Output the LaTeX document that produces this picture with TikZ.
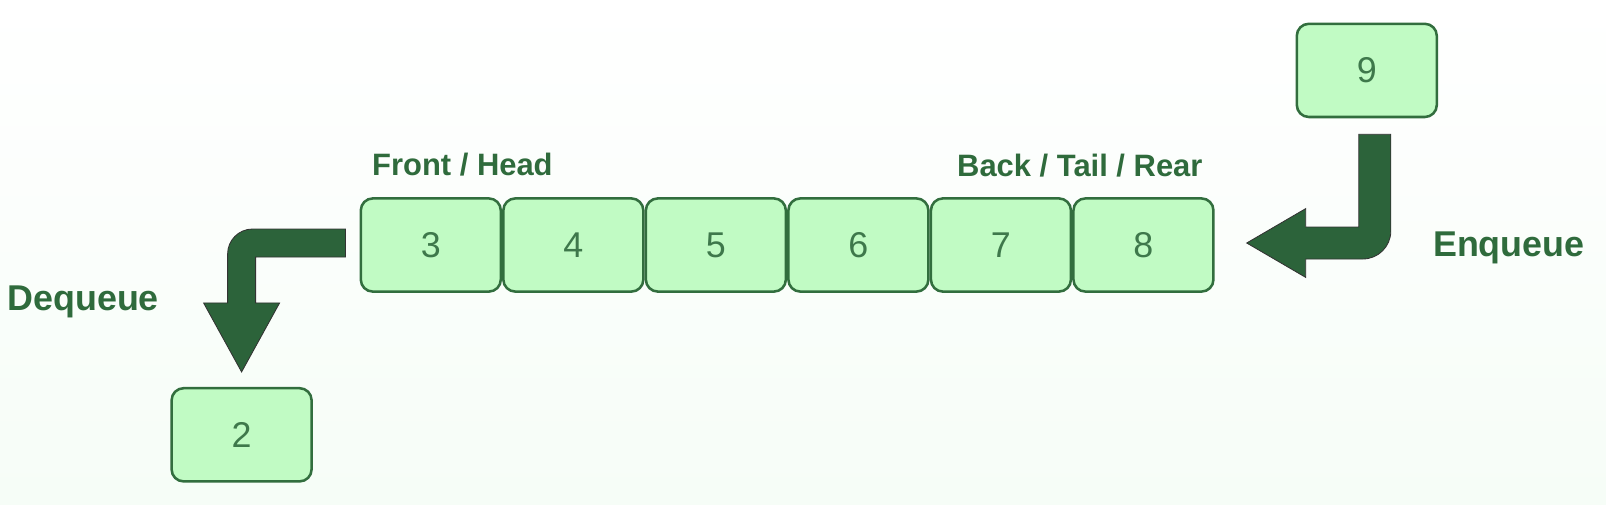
\documentclass[tikz,border=0pt]{standalone}
\usepackage{fontspec}
\setmainfont{Liberation Sans}
\usepackage{tikz}
\usetikzlibrary{positioning,calc}
\definecolor{boxfill}{RGB}{193,251,196}
\definecolor{boxline}{RGB}{50,110,62}
\definecolor{arrowfill}{RGB}{44,99,58}
\definecolor{labelgreen}{RGB}{47,107,60}
\definecolor{digitgreen}{RGB}{62,120,75}
\definecolor{bgbottom}{RGB}{246,253,247}

\begin{document}
\begin{tikzpicture}[
  qbox/.style={draw=boxline, fill=boxfill, line width=1.8pt, rounded corners=0.3cm,
    minimum width=3.5cm, minimum height=2.33cm, inner sep=0pt,
    text=digitgreen, font=\fontsize{25.5}{30}\selectfont},
  qlabel/.style={text=labelgreen, font=\bfseries\fontsize{22}{26}\selectfont, inner sep=0pt},
  oplabel/.style={text=labelgreen, font=\bfseries\fontsize{25.5}{30}\selectfont, inner sep=0pt},
  blockarrow/.style={fill=arrowfill, draw=black!80, line width=0.6pt}]
  \shade[top color=white, bottom color=bgbottom] (0,0) rectangle (40.15,12.6);

  \node[qbox] (q3) at (10.77,6.475) {3};
  \node[qbox, right=0pt of q3] (q4) {4};
  \node[qbox, right=0pt of q4] (q5) {5};
  \node[qbox, right=0pt of q5] (q6) {6};
  \node[qbox, right=0pt of q6] (q7) {7};
  \node[qbox, right=0pt of q7] (q8) {8};
  \node[qbox] (q9) at (34.17,10.84) {9};
  \node[qbox] (q2) at (6.04,1.73) {2};

  \node[qlabel, anchor=base west] (front) at ($(q3.north west)+(0.31,0.54)$) {Front / Head};
  \node[qlabel, anchor=base east] (rear) at ($(q8.north east)+(-0.3,0.52)$) {Back / Tail / Rear};
  \node[oplabel, anchor=base west] (deqlabel) at (0.18,4.83) {Dequeue};
  \node[oplabel, anchor=base west] (enqlabel) at (35.82,6.2) {Enqueue};

  \coordinate (enqtop) at ($(q9.south)+(0.2,-0.4)$);
  \coordinate (enqtip) at ($(q8.east)+(0.8,0.05)$);
  \coordinate (deqstart) at ($(q3.west)+(-0.35,0.05)$);
  \coordinate (deqtip) at ($(q2.north)+(0,0.375)$);

  % enqueue: 9 goes in at the rear
  \filldraw[blockarrow] let \p1=(enqtop), \p2=(enqtip) in
    (\x1-0.4cm,\y1) -- (\x1+0.4cm,\y1) -- (\x1+0.4cm,\y2+0.3cm)
    arc[start angle=0, end angle=-90, radius=0.7cm]
    -- (\x2+1.475cm,\y2-0.4cm) -- (\x2+1.475cm,\y2-0.86cm) -- (\x2,\y2)
    -- (\x2+1.475cm,\y2+0.86cm) -- (\x2+1.475cm,\y2+0.4cm)
    -- (\x1-0.4cm,\y2+0.4cm) -- cycle;

  % dequeue: 2 leaves at the front
  \filldraw[blockarrow] let \p1=(deqstart), \p2=(deqtip) in
    (\x1,\y1+0.35cm) -- (\x2+0.275cm,\y1+0.35cm)
    arc[start angle=90, end angle=180, radius=0.625cm]
    -- (\x2-0.35cm,\y2+1.725cm) -- (\x2-0.95cm,\y2+1.725cm) -- (\x2,\y2)
    -- (\x2+0.95cm,\y2+1.725cm) -- (\x2+0.35cm,\y2+1.725cm)
    -- (\x2+0.35cm,\y1-0.35cm) -- (\x1,\y1-0.35cm) -- cycle;
\end{tikzpicture}
\end{document}
